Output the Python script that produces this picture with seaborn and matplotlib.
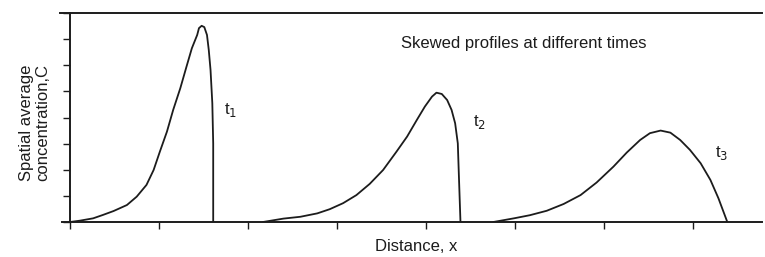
import pandas as pd
import matplotlib
matplotlib.use("Agg")
import matplotlib.pyplot as plt
import seaborn as sns

# profile t1
T1_X = [0.0, 0.11, 0.26, 0.37, 0.49, 0.64, 0.75, 0.86, 0.94, 1.01, 1.09, 1.16, 1.24,
        1.31, 1.37, 1.43, 1.45, 1.48, 1.51, 1.54, 1.56, 1.58, 1.60, 1.61, 1.61]
T1_C = [0.0, 0.05, 0.14, 0.27, 0.42, 0.65, 0.97, 1.42, 1.99, 2.69, 3.46, 4.29, 5.12,
        5.95, 6.65, 7.16, 7.42, 7.51, 7.46, 7.16, 6.59, 5.82, 4.55, 3.01, 0.0]

# profile t2
T2_X = [2.17, 2.40, 2.59, 2.78, 2.92, 3.07, 3.22, 3.37, 3.52, 3.67, 3.79, 3.90,
        3.99, 4.07, 4.12, 4.18, 4.24, 4.29, 4.33, 4.36, 4.37, 4.39]
T2_C = [0.0, 0.13, 0.20, 0.33, 0.49, 0.72, 1.03, 1.46, 1.99, 2.69, 3.27, 3.91,
        4.42, 4.80, 4.95, 4.90, 4.67, 4.29, 3.78, 3.01, 1.99, 0.0]

# profile t3
T3_X = [4.76, 4.99, 5.17, 5.36, 5.55, 5.74, 5.92, 6.11, 6.26, 6.41, 6.52, 6.64,
        6.75, 6.86, 6.97, 7.09, 7.20, 7.29, 7.39]
T3_C = [0.0, 0.14, 0.26, 0.43, 0.69, 1.03, 1.51, 2.12, 2.66, 3.14, 3.40, 3.50,
        3.42, 3.14, 2.76, 2.25, 1.61, 0.91, 0.0]

LABELS = ["t$_1$", "t$_2$", "t$_3$"]
LABEL_X = [1.80, 4.60, 7.33]
LABEL_Y = [4.3, 3.83, 2.64]

X_TICKS = [0, 1, 2, 3, 4, 5, 6, 7]
Y_TICKS = [0, 1, 2, 3, 4, 5, 6, 7, 8]

INK = "#1c1c1c"

sns.set_style("ticks")
plt.rcParams["font.family"] = ["Liberation Sans", "DejaVu Sans"]

frames = []
for name, xs, cs in [("t1", T1_X, T1_C), ("t2", T2_X, T2_C), ("t3", T3_X, T3_C)]:
    frames.append(pd.DataFrame({"x": xs, "C": cs, "time": name}))
df = pd.concat(frames, ignore_index=True)

fig = plt.figure(figsize=(7.65, 2.57), dpi=100)
ax = fig.add_axes([70 / 765, 35 / 257, 692 / 765, 209 / 257])

for name in ["t1", "t2", "t3"]:
    line_ax = sns.lineplot(data=df[df["time"] == name], x="x", y="C", sort=False, estimator=None,
                           color=INK, linewidth=1.3, ax=ax)
for line in ax.get_lines():
    line.set_solid_joinstyle("round")

ax.set_xlim(0, 7.78)
ax.set_ylim(0, 8)
ax.set_xticks(X_TICKS)
ax.set_yticks(Y_TICKS)
ax.set_xticklabels([])
ax.set_yticklabels([])
ax.tick_params(axis="both", direction="out", length=5, width=1.0, color=INK)

ax.spines["right"].set_visible(False)
for side in ["left", "top", "bottom"]:
    ax.spines[side].set_linewidth(1.4)
    ax.spines[side].set_color(INK)
ax.spines["top"].set_bounds(-0.11, 7.78)
ax.spines["bottom"].set_bounds(-0.09, 7.78)

for lab, lx, ly in zip(LABELS, LABEL_X, LABEL_Y):
    ax.text(lx, ly, lab, fontsize=12, color=INK, ha="center", va="center")

ax.text(0.655, 0.852, "Skewed profiles at different times", transform=ax.transAxes,
        fontsize=12, color=INK, ha="center", va="center")

ax.set_xlabel("Distance, x", fontsize=12, color=INK, labelpad=4)
ax.set_ylabel("Spatial average\nconcentration,C", fontsize=12, color=INK, linespacing=1.1)
ax.yaxis.set_label_coords(-0.029, 0.474)

fig.savefig("out.png", dpi=100)
